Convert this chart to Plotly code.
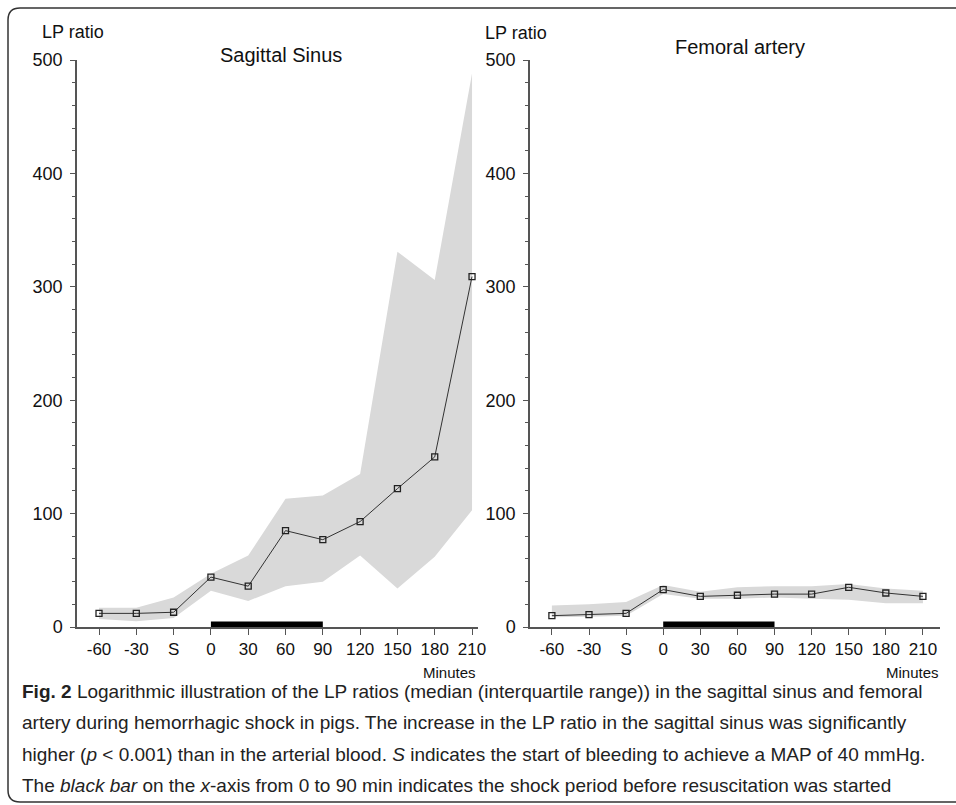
import plotly.graph_objects as go

# ---- data ----
time_labels = ["-60", "-30", "S", "0", "30", "60", "90", "120", "150", "180", "210"]
ss_median = [12, 12, 13, 44, 36, 85, 77, 93, 122, 150, 309]
ss_q3 = [17, 17, 26, 47, 63, 113, 116, 135, 331, 306, 488]
ss_q1 = [7, 5, 8, 32, 23, 36, 40, 63, 34, 62, 103]
fa_median = [10, 11, 12, 33, 27, 28, 29, 29, 35, 30, 27]
fa_q3 = [19, 20, 22, 37, 31, 35, 36, 36, 38, 34, 32]
fa_q1 = [8.5, 9, 10, 29, 25, 25, 26, 25, 24, 21, 21]
shock_period = ["0", "90"]
y_ticks = [0, 100, 200, 300, 400, 500]

W, H = 956, 805
def px(x):
    return x / W
def py(y):
    return 1 - y / H

idx = list(range(len(time_labels)))
fig = go.Figure()

def add_panel(xa, ya, med, q1, q3):
    fig.add_trace(go.Scatter(
        x=idx + idx[::-1], y=q3 + q1[::-1], fill="toself",
        fillcolor="#d9d9d9", line=dict(width=0), mode="lines",
        hoverinfo="skip", showlegend=False, xaxis=xa, yaxis=ya))
    fig.add_trace(go.Scatter(
        x=idx, y=med, mode="lines+markers",
        line=dict(color="#333333", width=1),
        marker=dict(symbol="square-open", size=6, color="#222222",
                    line=dict(width=1.3, color="#222222")),
        showlegend=False, xaxis=xa, yaxis=ya))
    s0 = time_labels.index(shock_period[0])
    s1 = time_labels.index(shock_period[1])
    fig.add_shape(type="rect", xref=xa, yref=ya, x0=s0, x1=s1, y0=0, y1=4.8,
                  fillcolor="black", line=dict(width=0), layer="above")

add_panel("x", "y", ss_median, ss_q1, ss_q3)
add_panel("x2", "y2", fa_median, fa_q1, fa_q3)

axis_col = "#555555"
xcommon = dict(tickmode="array", tickvals=idx, ticktext=time_labels,
               showline=True, linecolor=axis_col, linewidth=1.5,
               ticks="outside", ticklen=6, tickcolor=axis_col, tickwidth=1.3,
               showgrid=False, zeroline=False, automargin=False,
               tickfont=dict(family="Liberation Sans, Arial", size=17, color="#111"))
ycommon = dict(range=[0, 500], tickmode="array", tickvals=y_ticks,
               showline=True, linecolor=axis_col, linewidth=1.5,
               ticks="outside", ticklen=5, tickcolor=axis_col, tickwidth=1.3,
               minor=dict(dtick=20, ticks="outside", ticklen=3, tickcolor=axis_col, tickwidth=1),
               showgrid=False, zeroline=False, ticklabelstandoff=4, automargin=False,
               tickfont=dict(family="Liberation Sans, Arial", size=18, color="#111"))

fig.update_layout(
    width=W, height=H, margin=dict(l=0, r=0, t=0, b=0, pad=0),
    paper_bgcolor="white", plot_bgcolor="white",
    xaxis=dict(domain=[px(77), px(478)], range=[-0.59, 10.16], anchor="y", **xcommon),
    yaxis=dict(domain=[py(627), py(60)], anchor="x", **ycommon),
    xaxis2=dict(domain=[px(530), px(940)], range=[-0.59, 10.46], anchor="y2", **xcommon),
    yaxis2=dict(domain=[py(627), py(60)], anchor="x2", **ycommon),
)

def text(x, y, s, size, anchor="left", family="Liberation Sans, Arial", color="#111"):
    fig.add_annotation(xref="paper", yref="paper", x=px(x), y=py(y), text=s,
                       showarrow=False, xanchor=anchor, yanchor="middle",
                       font=dict(family=family, size=size, color=color))

text(40, 32, "LP ratio", 18)
text(483, 33, "LP ratio", 18)
text(281, 55, "Sagittal Sinus", 20, anchor="center")
text(740, 47, "Femoral artery", 20, anchor="center")
text(478, 672, "Minutes", 15, anchor="right")
text(941, 672, "Minutes", 15, anchor="right")

cap_font = "Liberation Sans, Arial"
cap = [
    "<b>Fig. 2</b> Logarithmic illustration of the LP ratios (median (interquartile range)) in the sagittal sinus and femoral",
    "artery during hemorrhagic shock in pigs. The increase in the LP ratio in the sagittal sinus was significantly",
    "higher (<i>p</i> &lt; 0.001) than in the arterial blood. <i>S</i> indicates the start of bleeding to achieve a MAP of 40 mmHg.",
    "The <i>black bar</i> on the <i>x</i>-axis from 0 to 90 min indicates the shock period before resuscitation was started",
]
for i, line in enumerate(cap):
    text(20, 691 + i * 31.5, line, 19, family=cap_font, color="#222")

# rounded frame
x0, y0, x1, y1, r = 8, 8, 975, 802, 12
path = (f"M {px(x0+r)},{py(y0)} L {px(x1)},{py(y0)} L {px(x1)},{py(y1)} "
        f"L {px(x0+r)},{py(y1)} Q {px(x0)},{py(y1)} {px(x0)},{py(y1-r)} "
        f"L {px(x0)},{py(y0+r)} Q {px(x0)},{py(y0)} {px(x0+r)},{py(y0)}")
fig.add_shape(type="path", xref="paper", yref="paper", path=path,
              line=dict(color="#333333", width=1.5))

fig.write_html("out.html")
